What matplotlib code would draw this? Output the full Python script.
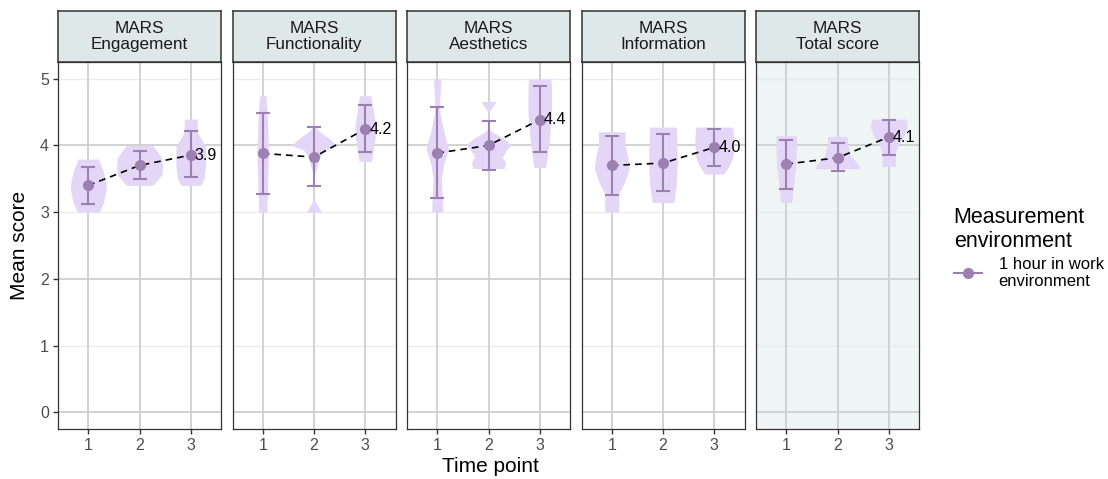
import matplotlib.pyplot as plt
from matplotlib.lines import Line2D
import numpy as np

plt.rcParams['font.family'] = ['Liberation Sans', 'DejaVu Sans']

panels = ["MARS\nEngagement", "MARS\nFunctionality", "MARS\nAesthetics",
          "MARS\nInformation", "MARS\nTotal score"]
time_points = [1, 2, 3]

# mean score and error bar ends per panel, per time point
means = [[3.40, 3.70, 3.855],
         [3.88, 3.825, 4.245],
         [3.885, 4.00, 4.385],
         [3.70, 3.735, 3.97],
         [3.72, 3.815, 4.125]]
err_low = [[3.115, 3.495, 3.52],
           [3.27, 3.395, 3.90],
           [3.205, 3.635, 3.905],
           [3.255, 3.31, 3.685],
           [3.345, 3.61, 3.86]]
err_high = [[3.68, 3.915, 4.22],
            [4.485, 4.275, 4.605],
            [4.58, 4.37, 4.885],
            [4.145, 4.17, 4.25],
            [4.085, 4.035, 4.375]]
end_labels = ["3.9", "4.2", "4.4", "4.0", "4.1"]

# violin outlines: (score, half width)
violins = [
    [[(3.0, 0.21), (3.15, 0.30), (3.38, 0.355), (3.6, 0.30), (3.72, 0.24), (3.795, 0.20)],
     [(3.4, 0.25), (3.55, 0.43), (3.7, 0.45), (3.82, 0.43), (4.0, 0.26)],
     [(3.4, 0.19), (3.5, 0.26), (3.7, 0.29), (3.98, 0.29), (4.2, 0.13), (4.395, 0.125)]],
    [[(3.0, 0.08), (3.3, 0.09), (3.9, 0.115), (4.4, 0.09), (4.745, 0.065)],
     [(3.0, 0.15), (3.19, 0.0), (3.58, 0.01), (3.65, 0.05), (3.8, 0.10), (3.93, 0.20),
      (4.0, 0.44), (4.1, 0.30), (4.2, 0.12), (4.28, 0.02)],
     [(3.76, 0.12), (3.9, 0.15), (4.1, 0.19), (4.3, 0.20), (4.55, 0.15), (4.745, 0.11)]],
    [[(3.0, 0.11), (3.2, 0.10), (3.5, 0.08), (3.7, 0.12), (3.95, 0.22), (4.2, 0.13),
      (4.5, 0.05), (4.7, 0.05), (4.9, 0.065), (4.995, 0.07)],
     [(3.655, 0.31), (3.74, 0.33), (3.83, 0.27), (3.93, 0.35), (4.01, 0.44), (4.1, 0.30),
      (4.2, 0.08), (4.235, 0.02), (4.485, 0.0), (4.66, 0.15)],
     [(3.67, 0.115), (3.8, 0.14), (4.1, 0.19), (4.5, 0.23), (4.8, 0.23), (4.995, 0.22)]],
    [[(3.0, 0.135), (3.28, 0.14), (3.45, 0.25), (3.65, 0.34), (3.8, 0.32), (4.0, 0.26), (4.205, 0.26)],
     [(3.145, 0.21), (3.4, 0.26), (3.75, 0.28), (4.1, 0.27), (4.275, 0.26)],
     [(3.57, 0.18), (3.7, 0.30), (3.85, 0.37), (4.1, 0.38), (4.275, 0.36)]],
    [[(3.145, 0.11), (3.4, 0.14), (3.7, 0.19), (4.0, 0.20), (4.145, 0.20)],
     [(3.65, 0.44), (3.72, 0.40), (3.85, 0.25), (4.0, 0.20), (4.135, 0.19)],
     [(3.685, 0.13), (3.9, 0.13), (4.0, 0.18), (4.15, 0.30), (4.3, 0.36), (4.395, 0.33)]],
]

violin_col = "#E4D6F6"
point_col = "#9B80B1"
strip_col = "#DEE8E8"
edge_col = "#333333"


def main():
    fig = plt.figure(figsize=(11.08, 4.79), dpi=100)
    W, H = 1108.0, 479.0
    lefts = [58, 232.5, 407, 581.5, 756]
    pw = 163
    y_bot, y_top, s_top = 429, 62, 11

    for i, name in enumerate(panels):
        ax = fig.add_axes([lefts[i] / W, 1 - y_bot / H, pw / W, (y_bot - y_top) / H])
        if i == 4:
            ax.set_facecolor("#EFF5F4")
        # grid: strong at 0,2,4, faint at 1,3,5
        for g in [1, 3, 5]:
            ax.axhline(g, color="#EBEBEB", lw=1.0, zorder=0)
        for g in [0, 2, 4]:
            ax.axhline(g, color="#CFCFCF", lw=1.3, zorder=0)
        for t in time_points:
            ax.axvline(t, color="#CFCFCF", lw=1.3, zorder=0)

        for j, t in enumerate(time_points):
            prof = np.array(violins[i][j])
            ax.fill_betweenx(prof[:, 0], t - prof[:, 1], t + prof[:, 1],
                             color=violin_col, lw=0, zorder=1)
            m = means[i][j]
            ax.errorbar(t, m, yerr=[[m - err_low[i][j]], [err_high[i][j] - m]],
                        color=point_col, capsize=5.3, elinewidth=1.5, capthick=1.5,
                        zorder=2, fmt="none")
        ax.plot(time_points, means[i], ls=(0, (4, 3)), color="black", lw=1.2, zorder=3)
        ax.plot(time_points, means[i], "o", color=point_col, ms=7, zorder=4)
        ax.text(3.08, means[i][2], end_labels[i], ha="left", va="center",
                fontsize=11.5, color="black", zorder=5)

        ax.set_xlim(0.41, 3.59)
        ax.set_ylim(-0.25, 5.25)
        ax.set_xticks(time_points)
        ax.set_yticks(range(6))
        ax.tick_params(length=3.5, width=1, color=edge_col, labelcolor="#4D4D4D",
                       labelsize=11.5, pad=3)
        if i > 0:
            ax.tick_params(axis="y", left=False, labelleft=False)
        for s in ax.spines.values():
            s.set_color(edge_col)
            s.set_linewidth(0.9)

        sax = fig.add_axes([lefts[i] / W, 1 - y_top / H, pw / W, (y_top - s_top) / H])
        sax.set_facecolor(strip_col)
        sax.set_xticks([])
        sax.set_yticks([])
        for s in sax.spines.values():
            s.set_color(edge_col)
            s.set_linewidth(1.1)
        sax.text(0.5, 0.5, name, ha="center", va="center", fontsize=12.3,
                 color="#1A1A1A", transform=sax.transAxes, linespacing=1.15)

    fig.text(490 / W, 1 - 467 / H, "Time point", ha="center", va="center", fontsize=15)
    fig.text(20 / W, 1 - 245 / H, "Mean score", ha="center", va="center",
             fontsize=15, rotation=90)

    handle = Line2D([], [], color=point_col, marker="o", ms=7, lw=1.5)
    fig.legend([handle], ["1 hour in work\nenvironment"], title="Measurement\nenvironment",
               loc="upper left", bbox_to_anchor=(947 / W, 1 - 200 / H), frameon=False,
               fontsize=12, title_fontsize=15.5, alignment="left", handlelength=1.7,
               handletextpad=1.0, borderaxespad=0, labelspacing=0.3)

    fig.savefig("out.png", dpi=100)


if __name__ == "__main__":
    main()
